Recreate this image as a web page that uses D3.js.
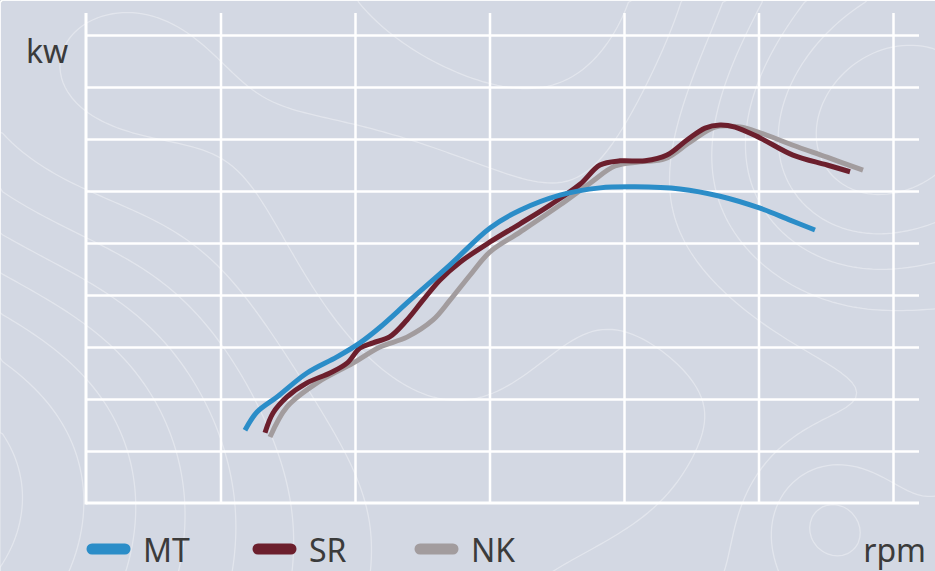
<!DOCTYPE html>
<html>
<head>
<meta charset="utf-8">
<script src="https://cdn.jsdelivr.net/npm/d3@7"></script>
<style>
  html, body { margin: 0; padding: 0; background: #d3d8e3; }
  svg { display: block; font-family: "Noto Sans", "Open Sans", sans-serif; }
</style>
</head>
<body>
<div id="chart"></div>
<script>
// rpm ticks (vertical grid) and kw ticks (horizontal grid), no labels shown
const rpmTicks = [2000, 4000, 6000, 8000, 10000, 12000];
const kwTicks = [10, 20, 30, 40, 50, 60, 70, 80, 90];

const series = ['NK', 'SR', 'MT'];
const colors = { MT: '#2b8dc8', SR: '#6c1f2d', NK: '#a29c9e' };

// [rpm, kw]
const mtData = [
  [2364, 14.0], [2543, 17.5], [2840, 20.4], [3286, 25.0], [3732, 28.1],
  [4074, 30.8], [4372, 33.8], [4818, 39.0], [5413, 45.8], [6008, 52.9],
  [6454, 56.3], [7048, 59.2], [7643, 60.6], [8164, 60.8], [8833, 60.4],
  [9428, 59.0], [10023, 56.7], [10469, 54.4], [10840, 52.5]
];
const srData = [
  [2662, 13.5], [2781, 17.3], [2989, 20.4], [3286, 23.1], [3628, 25.0],
  [3881, 26.9], [4074, 29.8], [4268, 30.8], [4520, 32.0], [4773, 35.2],
  [5011, 39.0], [5264, 42.9], [5562, 46.3], [6008, 50.2], [6454, 53.7],
  [6900, 57.3], [7346, 61.3], [7643, 65.0], [7941, 65.8], [8313, 65.8],
  [8640, 66.9], [8937, 69.8], [9205, 72.1], [9428, 72.7], [9651, 72.3],
  [10023, 70.2], [10513, 66.9], [11019, 65.0], [11361, 63.7]
];
const nkData = [
  [2736, 12.7], [2989, 18.5], [3435, 23.1], [3970, 26.9], [4372, 30.0],
  [4773, 31.9], [5160, 35.2], [5413, 39.0], [5710, 43.8], [6008, 48.3],
  [6454, 52.1], [7048, 57.3], [7494, 61.5], [7866, 64.8], [8238, 65.6],
  [8610, 66.2], [8982, 69.4], [9354, 72.3], [9726, 72.3], [10023, 71.2],
  [10513, 68.8], [11019, 66.5], [11554, 64.0]
];
const dataBy = { MT: mtData, SR: srData, NK: nkData };
const legendOrder = ['MT', 'SR', 'NK'];

const W = 935, H = 571;
const svg = d3.select('#chart').append('svg').attr('width', W).attr('height', H);

svg.append('rect').attr('width', W).attr('height', H).attr('fill', '#d3d8e3');

// decorative topographic background
const step = 5, nx = Math.ceil(W / step) + 1, ny = Math.ceil(H / step) + 1;
const bumps = [
  [860, 145, 110, 1.0], [820, 515, 50, 0.5], [-60, 470, 230, -1.4],
  [40, 120, 150, 0.8], [560, -40, 160, -0.8], [380, 260, 140, 0.4],
  [660, 420, 170, -0.5], [990, 330, 150, -0.6]
];
const field = new Array(nx * ny);
for (let j = 0; j < ny; j++) {
  for (let i = 0; i < nx; i++) {
    const px = i * step, py = j * step;
    let v = 0.0016 * px;
    for (const [cx, cy, s, a] of bumps) {
      v += a * Math.exp(-((px - cx) ** 2 + (py - cy) ** 2) / (2 * s * s));
    }
    field[j * nx + i] = v;
  }
}
const contours = d3.contours().size([nx, ny]).thresholds(d3.range(-1.5, 2.6, 0.26))(field);
svg.append('g')
  .attr('fill', 'none').attr('stroke', '#ffffff').attr('stroke-opacity', 0.35).attr('stroke-width', 1.3)
  .selectAll('path').data(contours).join('path')
  .attr('d', d3.geoPath(d3.geoIdentity().scale(step)));

const x = d3.scaleLinear().domain([0, 12000]).range([86, 893]);
const y = d3.scaleLinear().domain([0, 90]).range([503, 35]);
const xEnd = 919, yTop = 13;

// grid via axes
svg.append('g').attr('transform', `translate(${x(0)},0)`)
  .call(d3.axisLeft(y).tickValues(kwTicks).tickSize(-(xEnd - x(0))).tickFormat(''))
  .call(g => g.select('.domain').remove())
  .call(g => g.selectAll('.tick line').attr('stroke', '#fff').attr('stroke-width', 2.5));

svg.append('g').attr('transform', `translate(0,${y(0)})`)
  .call(d3.axisBottom(x).tickValues(rpmTicks).tickSize(-(y(0) - yTop)).tickFormat(''))
  .call(g => g.select('.domain').remove())
  .call(g => g.selectAll('.tick line').attr('stroke', '#fff').attr('stroke-width', 2.5));

// axes lines
svg.append('line').attr('x1', x(0)).attr('x2', x(0)).attr('y1', yTop).attr('y2', y(0) + 1.5)
  .attr('stroke', '#fff').attr('stroke-width', 3);
svg.append('line').attr('x1', x(0)).attr('x2', xEnd).attr('y1', y(0)).attr('y2', y(0))
  .attr('stroke', '#fff').attr('stroke-width', 3);

// curves
const line = d3.line().x(d => x(d[0])).y(d => y(d[1])).curve(d3.curveCatmullRom.alpha(0.5));
svg.append('g').selectAll('path').data(series).join('path')
  .attr('d', s => line(dataBy[s]))
  .attr('fill', 'none')
  .attr('stroke', s => colors[s])
  .attr('stroke-width', 5)
  .attr('stroke-linecap', 'butt')
  .attr('stroke-linejoin', 'round');

// axis titles
svg.append('text').attr('x', 26).attr('y', 63).text('kw')
  .attr('font-size', 32).attr('fill', '#3b3b3b');
svg.append('text').attr('x', 926).attr('y', 562).attr('text-anchor', 'end').text('rpm')
  .attr('font-size', 32).attr('fill', '#3b3b3b');

// legend
const legendX = { MT: 92, SR: 258, NK: 420 };
const lg = svg.append('g').selectAll('g').data(legendOrder).join('g')
  .attr('transform', s => `translate(${legendX[s]},549)`);
lg.append('line').attr('x1', 0).attr('x2', 33).attr('y1', 0).attr('y2', 0)
  .attr('stroke', s => colors[s]).attr('stroke-width', 11).attr('stroke-linecap', 'round');
lg.append('text').attr('x', 51).attr('y', 13).text(s => s)
  .attr('font-size', 32).attr('fill', '#3b3b3b');
</script>
</body>
</html>
